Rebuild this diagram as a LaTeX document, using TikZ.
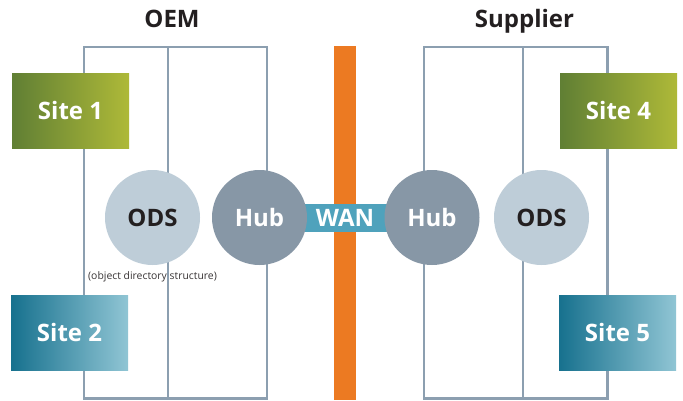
\documentclass[tikz,border=0pt]{standalone}
\usepackage{fontspec}
\setmainfont{Open Sans}
\definecolor{frameline}{HTML}{8C9FB0}
\definecolor{odsfill}{HTML}{BECDD8}
\definecolor{hubfill}{HTML}{8797A6}
\definecolor{wanorange}{HTML}{EC7A22}
\definecolor{wanteal}{HTML}{4FA2BC}
\definecolor{greenL}{HTML}{607F34}
\definecolor{greenR}{HTML}{AEB938}
\definecolor{tealL}{HTML}{17718E}
\definecolor{tealR}{HTML}{90C5D4}
\definecolor{darktext}{HTML}{231F20}
\tikzset{
  frame/.style={draw=frameline, line width=2.4pt},
  greensite/.style={rectangle, minimum width=117pt, minimum height=75pt, inner sep=0pt,
    left color=greenL, right color=greenR, text=white, font=\fontsize{24}{24}\selectfont\bfseries},
  tealsite/.style={rectangle, minimum width=117pt, minimum height=75pt, inner sep=0pt,
    left color=tealL, right color=tealR, text=white, font=\fontsize{24}{24}\selectfont\bfseries},
  odsnode/.style={circle, fill=odsfill, minimum size=95pt, inner sep=0pt,
    text=darktext, font=\fontsize{24}{24}\selectfont\bfseries},
  hubnode/.style={circle, fill=hubfill, minimum size=95pt, inner sep=0pt,
    text=white, font=\fontsize{24}{24}\selectfont\bfseries},
  title/.style={text=darktext, font=\fontsize{24}{24}\selectfont\bfseries, inner sep=0pt, anchor=base}
}
\begin{document}
\begin{tikzpicture}[x=1pt, y=-1pt]
\useasboundingbox (0,0) rectangle (683,400);
\fill[white] (0,0) rectangle (683,400);

% domain frames with their middle dividers
\draw[frame] (84,47) rectangle (267,398.5);
\draw[frame] (168,47) -- (168,398.5);
\draw[frame] (424,47) rectangle (607.5,398.5);
\draw[frame] (523,47) -- (523,398.5);

% wide area network
\fill[wanorange] (334,46) rectangle (356,400);
\node[fill=wanteal, minimum width=90pt, minimum height=28pt, inner sep=0pt] (wan) at (345,218) {};
\node[text=white, font=\fontsize{24}{24}\selectfont\bfseries] (wantext) at (345,218) {WAN};

% directory services and hubs
\node[odsnode] (ods1) at (152.5,217.5) {ODS};
\node[hubnode] (hub1) at (259.5,217.5) {Hub};
\node[hubnode] (hub2) at (432,217.5) {Hub};
\node[odsnode] (ods2) at (541.5,217.5) {ODS};
\node[text=darktext!90, font=\fontsize{10.4}{11}\selectfont, inner sep=0pt] (odslabel) at (152.5,277) {(object directory structure)};

% sites
\node[greensite] (s1) at (70.5,110.5) {Site 1};
\node[tealsite] (s2) at (69.5,332.5) {Site 2};
\node[greensite] (s4) at (618.5,110.5) {Site 4};
\node[tealsite] (s5) at (617.5,332.5) {Site 5};

% headings
\node[title] (oem) at (172,27) {OEM};
\node[title] (supplier) at (524.5,27) {Supplier};
\end{tikzpicture}
\end{document}
